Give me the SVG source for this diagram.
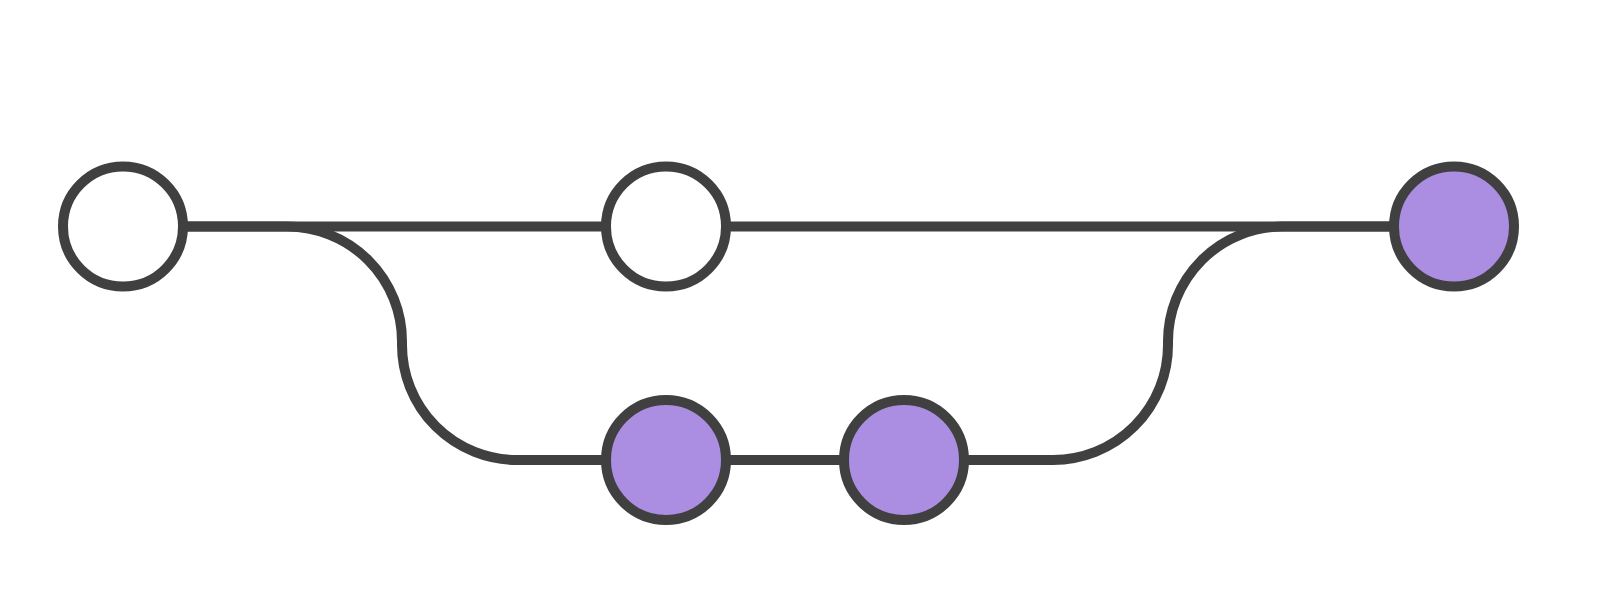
<svg xmlns="http://www.w3.org/2000/svg" width="1600" height="614" viewBox="0 0 1600 614">
<style>
.edge{fill:none;stroke:#404040;stroke-width:10}
.node{stroke:#404040;stroke-width:10}
.plain{fill:#ffffff}
.new{fill:#ab8de1}
</style>
<rect width="1600" height="614" fill="#ffffff"/>
<g id="connectors">
<path class="edge" d="M123 226.5 H1454"/>
<path class="edge" d="M123 226.5 H287 A115 115 0 0 1 402 341.5 V345 A115 115 0 0 0 517 460 H1053 A115 115 0 0 0 1168 345 V341.5 A115 115 0 0 1 1283 226.5 H1454"/>
</g>
<g id="n1"><circle class="node plain" cx="123" cy="226.5" r="60"/></g>
<g id="n2"><circle class="node plain" cx="666" cy="226.5" r="60"/></g>
<g id="n3"><circle class="node new" cx="1454" cy="226.5" r="60"/></g>
<g id="n4"><circle class="node new" cx="666" cy="460" r="60"/></g>
<g id="n5"><circle class="node new" cx="904" cy="460" r="60"/></g>
</svg>
